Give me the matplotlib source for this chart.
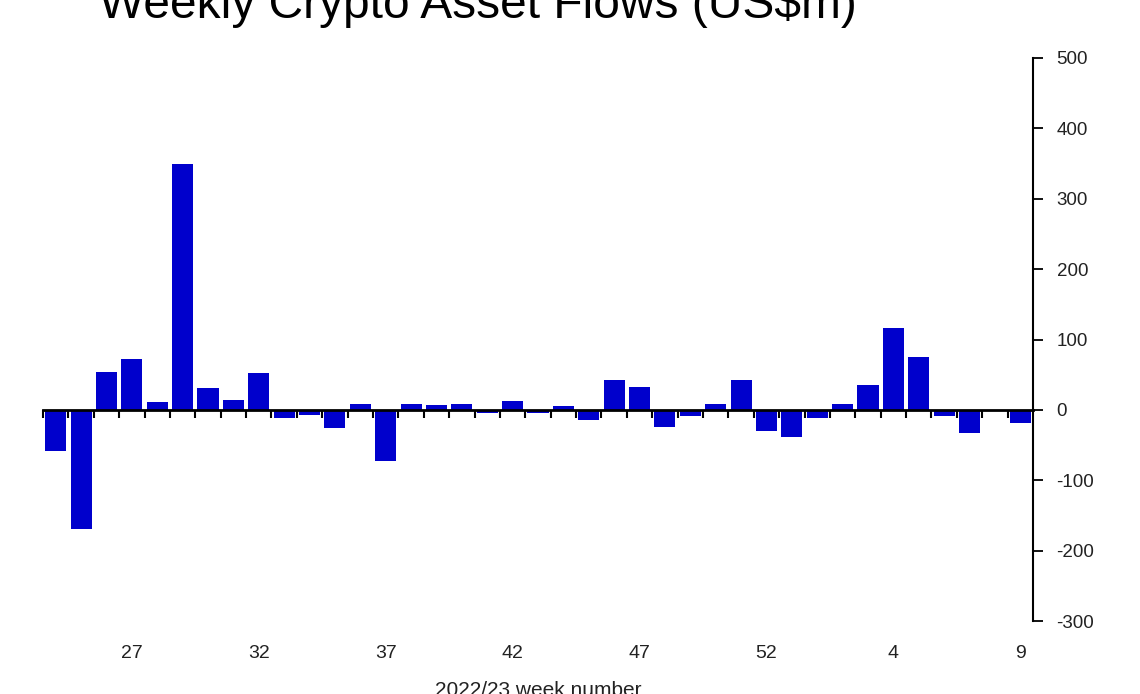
import matplotlib
matplotlib.use('Agg')
import matplotlib.pyplot as plt
from matplotlib import font_manager
import numpy as np

# week numbers 2022 (24-53) then 2023 (1-9)
weeks = list(range(24, 54)) + list(range(1, 10))
flows = [-59, -169, 54, 72, 11, 349, 31, 14, 53, -12,
         -7, -26, 9, -73, 8, 7, 9, -5, 12, -5,
         5, -15, 42, 32, -24, -9, 9, 43, -30, -38,
         -11, 8, 36, 116, 75, -8, -33, 0, -18]
tick_weeks = [27, 32, 37, 42, 47, 52, 4, 9]
tick_labels = [str(w) for w in tick_weeks]
y_ticks = list(range(-300, 501, 100))

names = {f.name for f in font_manager.fontManager.ttflist}
narrow = 'Liberation Sans Narrow' if 'Liberation Sans Narrow' in names else 'Liberation Sans'
plt.rcParams['font.family'] = ['Liberation Sans', 'DejaVu Sans']
plt.rcParams['axes.unicode_minus'] = False

pos = np.arange(len(weeks))
label_pos = [weeks.index(w) for w in tick_weeks]

fig = plt.figure(figsize=(11.4, 6.94), dpi=100)
ax = fig.add_axes([43/1140, 1 - 621/694, 990/1140, 563/694])

ax.bar(pos, flows, width=0.83, color='#0000cc', zorder=2)
ax.set_xlim(-0.5, len(weeks) - 0.5)
ax.set_ylim(-300, 500)

# zero line with ticks between the bars
ax.spines['bottom'].set_position(('data', 0))
ax.spines['bottom'].set_linewidth(2)
ax.spines['bottom'].set_zorder(3)
ax.set_xticks(pos - 0.5)
ax.tick_params(axis='x', direction='out', length=6, width=1.5, labelbottom=False)

ax.spines['left'].set_visible(False)
ax.spines['top'].set_visible(False)
ax.spines['right'].set_linewidth(1.5)
ax.yaxis.tick_right()
ax.set_yticks(y_ticks)
ax.tick_params(axis='y', direction='out', length=7, width=1.3, pad=10,
               labelsize=13.5, labelcolor='#222222')

# week labels under the plot
sec = ax.secondary_xaxis('bottom')
sec.set_xticks(label_pos, tick_labels)
sec.tick_params(length=0, pad=17, labelsize=14, labelcolor='#222222')
sec.spines['bottom'].set_visible(False)
sec.set_xlabel('2022/23 week number', fontsize=15, labelpad=14, color='#222222')

fig.text(478/1140, 1 - 18/694, 'Weekly Crypto Asset Flows (US$m)', ha='center',
         va='baseline', fontsize=34.5, family=narrow)

fig.savefig('out.png', dpi=100)
